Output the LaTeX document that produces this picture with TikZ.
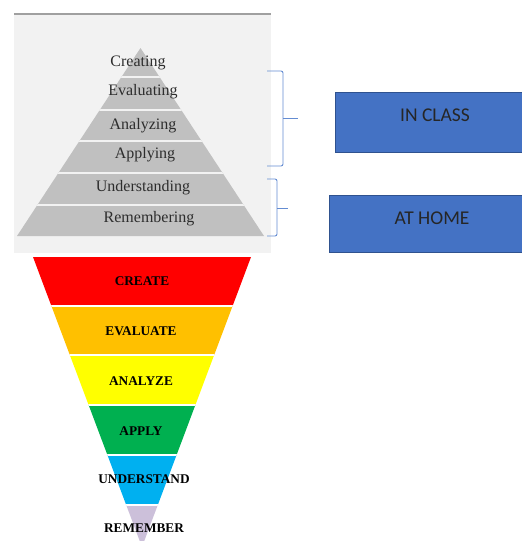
\documentclass[tikz,border=0pt]{standalone}
\usepackage{fontspec}
\setmainfont{Liberation Serif}
\newfontfamily\calib{Carlito}
\definecolor{panelbg}{RGB}{242,242,242}
\definecolor{panelline}{RGB}{160,160,160}
\definecolor{pyrgray}{RGB}{192,192,192}
\definecolor{pyrtext}{RGB}{45,45,45}
\definecolor{brace}{RGB}{100,140,210}
\definecolor{boxfill}{RGB}{68,114,196}
\definecolor{boxedge}{RGB}{47,82,143}
\definecolor{cred}{RGB}{255,0,0}
\definecolor{corange}{RGB}{255,192,0}
\definecolor{cyellow}{RGB}{255,255,0}
\definecolor{cgreen}{RGB}{0,176,80}
\definecolor{cblue}{RGB}{0,176,240}
\definecolor{clav}{RGB}{204,192,218}
\begin{document}
\begin{tikzpicture}[x=1pt,y=-1pt,
  graylabel/.style={font=\fontsize{16}{16}\selectfont, text=pyrtext, inner sep=0pt, anchor=center},
  colorlabel/.style={font=\bfseries\fontsize{13.3}{13.3}\selectfont, text=black, inner sep=0pt, anchor=center},
  bluebox/.style={draw=boxedge, line width=0.9pt, fill=boxfill, inner sep=0pt, anchor=north west},
  boxtext/.style={font=\calib\fontsize{19.5}{19.5}\selectfont, text=black!85, inner sep=0pt, anchor=center},
  bracket/.style={draw=brace, line width=0.9pt, rounded corners=2pt},
  sepline/.style={draw=white, line width=1.6pt}
]
\useasboundingbox (0,0) rectangle (522,541);
% top panel
\fill[panelbg] (14,14) rectangle (271,253);
\draw[panelline, line width=2pt] (14,14) -- (271,14);
% gray pyramid
\begin{scope}
  \clip (140.5,48) -- (264,236) -- (17,236) -- cycle;
  \fill[pyrgray] (0,40) rectangle (300,240);
  \foreach \yy in {77,110,141,173,205} {\draw[sepline, draw=panelbg] (0,\yy) -- (300,\yy);}
\end{scope}
\node[graylabel] (creating) at (138,63) {Creating};
\node[graylabel] (evaluating) at (143,91.5) {Evaluating};
\node[graylabel] (analyzing) at (143,126) {Analyzing};
\node[graylabel] (applying) at (145,155) {Applying};
\node[graylabel] (understanding) at (143,188) {Understanding};
\node[graylabel] (remembering) at (149,219) {Remembering};
% brackets
\coordinate (b1t) at (267,71);
\coordinate (b1b) at (267,166);
\coordinate (b1m) at (283,118);
\coordinate (b1tip) at (298,118);
\draw[bracket] (b1t) -- (283,71) -- (283,166) -- (b1b);
\draw[draw=brace, line width=0.9pt] (b1m) -- (b1tip);
\coordinate (b2t) at (267,179);
\coordinate (b2b) at (267,236);
\coordinate (b2m) at (277,208);
\coordinate (b2tip) at (288,208);
\draw[bracket] (b2t) -- (277,179) -- (277,236) -- (b2b);
\draw[draw=brace, line width=0.9pt] (b2m) -- (b2tip);
% blue boxes
\node[bluebox, minimum width=188pt, minimum height=60pt] (inclass) at (335,92) {};
\node[boxtext] (inclasstext) at (435,115) {IN CLASS};
\node[bluebox, minimum width=194pt, minimum height=57pt] (athome) at (329,195) {};
\node[boxtext] (athometext) at (432,218) {AT HOME};
% inverted colour pyramid
\begin{scope}
  \clip (33,257) -- (251,257) -- (142,547) -- cycle;
  \fill[cred] (0,250) rectangle (300,306);
  \fill[corange] (0,306) rectangle (300,355);
  \fill[cyellow] (0,355) rectangle (300,405);
  \fill[cgreen] (0,405) rectangle (300,455);
  \fill[cblue] (0,455) rectangle (300,505);
  \fill[clav] (0,505) rectangle (300,550);
  \foreach \yy in {306,355,405,455,505} {\draw[sepline] (0,\yy) -- (300,\yy);}
\end{scope}
\node[colorlabel] (create) at (142,281) {CREATE};
\node[colorlabel] (evaluate) at (141,331) {EVALUATE};
\node[colorlabel] (analyze) at (141,381) {ANALYZE};
\node[colorlabel] (apply) at (141,431) {APPLY};
\node[colorlabel] (understand) at (144,479) {UNDERSTAND};
\node[colorlabel] (remember) at (144,528) {REMEMBER};
\end{tikzpicture}
\end{document}
